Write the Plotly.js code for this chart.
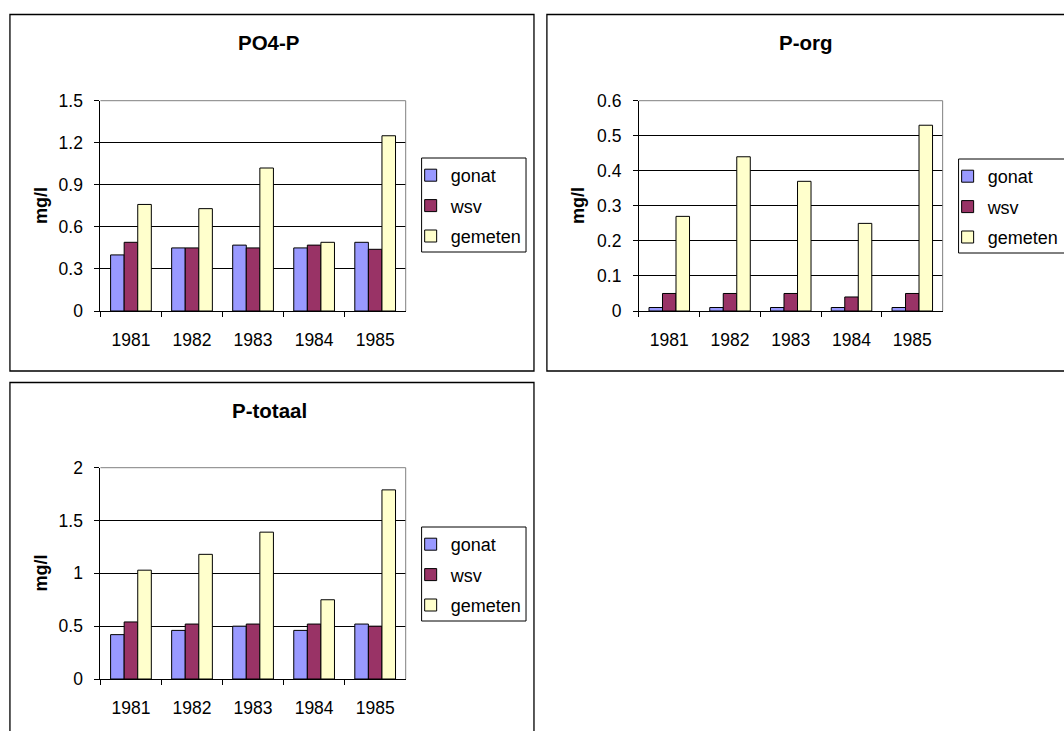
<!DOCTYPE html>
<html>
<head>
<meta charset="utf-8">
<script src="https://cdn.plot.ly/plotly-3.0.1.min.js"></script>
<style>
  html, body { margin: 0; padding: 0; background: #ffffff; }
  #chart { width: 1064px; height: 731px; }
</style>
</head>
<body>
<div id="chart"></div>
<script>
// Jaren (categorieën)
const years = ['1981', '1982', '1983', '1984', '1985'];
const seriesNames = ['gonat', 'wsv', 'gemeten'];

// PO4-P (mg/l)
const po4Gonat   = [0.40, 0.45, 0.47, 0.45, 0.49];
const po4Wsv     = [0.49, 0.45, 0.45, 0.47, 0.44];
const po4Gemeten = [0.76, 0.73, 1.02, 0.49, 1.25];

// P-org (mg/l)
const porgGonat   = [0.01, 0.01, 0.01, 0.01, 0.01];
const porgWsv     = [0.05, 0.05, 0.05, 0.04, 0.05];
const porgGemeten = [0.27, 0.44, 0.37, 0.25, 0.53];

// P-totaal (mg/l)
const ptotGonat   = [0.42, 0.46, 0.50, 0.46, 0.52];
const ptotWsv     = [0.54, 0.52, 0.52, 0.52, 0.50];
const ptotGemeten = [1.03, 1.18, 1.39, 0.75, 1.79];

const W = 1064, H = 731;
const FONT = '"Liberation Sans", Arial, sans-serif';
const COLORS = ['#9999FF', '#993366', '#FFFFCC'];

const px = v => v / W;          // pixel -> paper x
const py = v => 1 - v / H;      // pixel -> paper y

// Panel geometry in pixels
const panels = [
  { key: '',  title: 'PO4-P',    box: [10, 14.5, 537, 371], plot: [101, 100.7, 408, 311], leg: [424, 158, 529, 252],
    range: [0, 1.5], dtick: 0.3, data: [po4Gonat, po4Wsv, po4Gemeten] },
  { key: '2', title: 'P-org',    box: [550, 14.5, 1075, 371], plot: [642.5, 100.7, 948, 311], leg: [964, 159, 1075, 253],
    range: [0, 0.6], dtick: 0.1, data: [porgGonat, porgWsv, porgGemeten] },
  { key: '3', title: 'P-totaal', box: [10, 382.5, 537, 745], plot: [101, 467.7, 408, 679], leg: [424, 527, 529, 621],
    range: [0, 2], dtick: 0.5, data: [ptotGonat, ptotWsv, ptotGemeten] }
];

const traces = [];
const layout = {
  width: W, height: H,
  margin: { l: 0, r: 0, t: 0, b: 0 },
  paper_bgcolor: '#ffffff',
  plot_bgcolor: '#ffffff',
  barmode: 'group',
  bargap: 0.333,
  bargroupgap: 0,
  font: { family: FONT, color: '#000000', size: 17.5 },
  showlegend: true,
  shapes: [],
  annotations: []
};

panels.forEach((p, i) => {
  const xa = 'x' + p.key, ya = 'y' + p.key;
  const legName = 'legend' + p.key;

  p.data.forEach((vals, s) => {
    traces.push({
      type: 'bar',
      name: seriesNames[s],
      x: years,
      y: vals,
      xaxis: xa, yaxis: ya,
      legend: legName,
      legendgroup: p.key + seriesNames[s],
      marker: { color: COLORS[s], line: { color: '#000000', width: 1 } },
      hoverinfo: 'skip'
    });
  });

  layout['xaxis' + p.key] = {
    domain: [px(p.plot[0]), px(p.plot[2])],
    anchor: ya,
    type: 'category',
    showline: true, linecolor: '#000000', linewidth: 1,
    ticks: 'outside', ticklen: 5, tickcolor: '#000000', tickwidth: 1,
    tickson: 'boundaries',
    ticklabelstandoff: 13,
    showgrid: false, zeroline: false,
    tickfont: { family: FONT, size: 17.5, color: '#000000' },
    fixedrange: true
  };
  layout['yaxis' + p.key] = {
    domain: [py(p.plot[3]), py(p.plot[1])],
    anchor: xa,
    range: p.range, dtick: p.dtick, tick0: 0,
    showline: true, linecolor: '#000000', linewidth: 1,
    ticks: 'outside', ticklen: 5, tickcolor: '#000000', tickwidth: 1,
    ticklabelstandoff: 8,
    showgrid: true, gridcolor: '#000000', gridwidth: 1,
    zeroline: false,
    tickfont: { family: FONT, size: 17.5, color: '#000000' },
    fixedrange: true
  };

  // Legend entries, framed by a rectangle below
  layout[legName] = {
    x: px(p.leg[0] - 11), xanchor: 'left',
    y: py(p.leg[1] - 1), yanchor: 'top',
    bgcolor: 'rgba(0,0,0,0)', borderwidth: 0,
    traceorder: 'grouped', tracegroupgap: 4,
    font: { family: FONT, size: 18, color: '#000000' }
  };

  // Chart frame
  layout.shapes.push({
    type: 'rect', xref: 'paper', yref: 'paper',
    x0: px(p.box[0]), x1: px(p.box[2]), y0: py(p.box[3]), y1: py(p.box[1]),
    line: { color: '#000000', width: 1.3 }, fillcolor: 'rgba(0,0,0,0)', layer: 'below'
  });
  // Legend frame
  layout.shapes.push({
    type: 'rect', xref: 'paper', yref: 'paper',
    x0: px(p.leg[0]), x1: px(p.leg[2]), y0: py(p.leg[3]), y1: py(p.leg[1]),
    line: { color: '#000000', width: 1 }, fillcolor: 'rgba(0,0,0,0)', layer: 'below'
  });
  // Grey plot-area edge on top and right
  layout.shapes.push({
    type: 'line', xref: xa + ' domain', yref: ya + ' domain',
    x0: 0, x1: 1, y0: 1, y1: 1, line: { color: '#808080', width: 1 }, layer: 'above'
  });
  layout.shapes.push({
    type: 'line', xref: xa + ' domain', yref: ya + ' domain',
    x0: 1, x1: 1, y0: 0, y1: 1, line: { color: '#808080', width: 1 }, layer: 'above'
  });

  // Chart title
  layout.annotations.push({
    text: p.title, xref: 'paper', yref: 'paper',
    x: px(p.box[0] + 261), y: py(p.box[1] + 28),
    xanchor: 'center', yanchor: 'middle', showarrow: false,
    font: { family: FONT, size: 20.5, color: '#000000', weight: 'bold' }
  });
  // Axis unit
  layout.annotations.push({
    text: 'mg/l', xref: 'paper', yref: 'paper',
    x: px(p.box[0] + 31.5), y: py((p.plot[1] + p.plot[3]) / 2),
    xanchor: 'center', yanchor: 'middle', showarrow: false, textangle: -90,
    font: { family: FONT, size: 18, color: '#000000', weight: 'bold' }
  });
});

Plotly.newPlot('chart', traces, layout, { staticPlot: true, displayModeBar: false });
</script>
</body>
</html>
